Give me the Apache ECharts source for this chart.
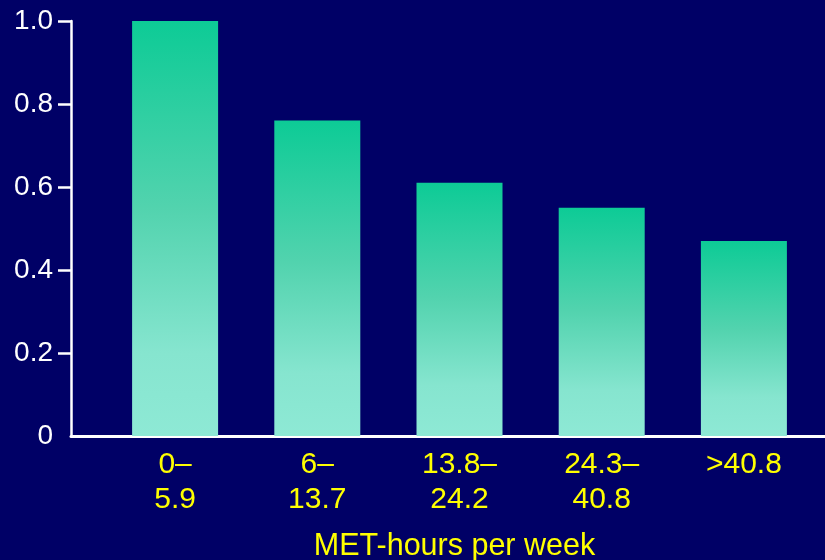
<!DOCTYPE html>
<html>
<head>
<meta charset="utf-8">
<title>MET-hours per week</title>
<script src="https://cdn.jsdelivr.net/npm/echarts@6/dist/echarts.min.js"></script>
<style>
  html, body { margin: 0; padding: 0; background: #000066; }
  #chart { width: 825px; height: 560px; }
</style>
</head>
<body>
<div id="chart"></div>
<script>
// Activity categories (MET-hours per week) and relative values
const categories = ['0–\n5.9', '6–\n13.7', '13.8–\n24.2', '24.3–\n40.8', '>40.8'];
const values = [1.0, 0.76, 0.61, 0.55, 0.47];
const yTicks = [0, 0.2, 0.4, 0.6, 0.8, 1.0];

const FONT = "'Liberation Sans', Arial, Helvetica, sans-serif";
const chart = echarts.init(document.getElementById('chart'), null, { renderer: 'canvas' });

const barGradient = new echarts.graphic.LinearGradient(0, 0, 0, 1, [
  { offset: 0, color: '#0dcb96' },
  { offset: 0.45, color: '#52d3ae' },
  { offset: 0.8, color: '#86e5cf' },
  { offset: 1, color: '#8ee9d5' }
]);

chart.setOption({
  backgroundColor: '#000066',
  animation: false,
  grid: [
    // bars
    { left: 104, right: 10, top: 21, bottom: 124, outerBoundsMode: 'none', containLabel: false },
    // frame: axis lines, ticks and value labels
    { left: 71, right: 0, top: 21, bottom: 124, outerBoundsMode: 'none', containLabel: false }
  ],
  xAxis: [
    {
      type: 'category',
      gridIndex: 0,
      data: categories,
      axisLine: { show: false },
      axisTick: { show: false },
      axisLabel: {
        color: '#ffff00',
        fontFamily: FONT,
        fontSize: 30,
        lineHeight: 35,
        margin: 11,
        interval: 0
      },
      name: 'MET-hours per week',
      nameLocation: 'middle',
      nameGap: 95,
      nameTextStyle: {
        color: '#ffff00',
        fontFamily: FONT,
        fontSize: 30.5,
        padding: [0, 10, 0, 0]
      }
    },
    {
      type: 'value',
      gridIndex: 1,
      min: 0,
      max: 1,
      axisLine: { show: true, lineStyle: { color: '#ffffff', width: 3 } },
      axisTick: { show: false },
      axisLabel: { show: false },
      splitLine: { show: false }
    }
  ],
  yAxis: [
    {
      type: 'value',
      gridIndex: 0,
      min: 0,
      max: 1,
      show: false
    },
    {
      type: 'value',
      gridIndex: 1,
      min: 0,
      max: 1,
      interval: 0.2,
      axisLine: { show: true, lineStyle: { color: '#ffffff', width: 2.5 } },
      axisTick: {
        show: true,
        length: 13,
        customValues: yTicks.slice(1),
        lineStyle: { color: '#ffffff', width: 2.5 }
      },
      axisLabel: {
        color: '#ffffff',
        fontFamily: FONT,
        fontSize: 28,
        margin: 18,
        lineHeight: 34,
        padding: [6, 0, 0, 0],
        customValues: yTicks,
        formatter: v => (v === 0 ? '0' : v.toFixed(1))
      },
      splitLine: { show: false }
    },
    {
      // baseline tick at zero
      type: 'value',
      gridIndex: 1,
      min: 0,
      max: 1,
      axisLine: { show: false },
      axisTick: {
        show: true,
        length: 13,
        customValues: [yTicks[0]],
        lineStyle: { color: '#000000', width: 2.5 }
      },
      axisLabel: { show: false },
      splitLine: { show: false }
    }
  ],
  series: [
    {
      type: 'bar',
      xAxisIndex: 0,
      yAxisIndex: 0,
      data: values,
      barWidth: 86,
      itemStyle: { color: barGradient },
      z: 3
    }
  ]
});
</script>
</body>
</html>
